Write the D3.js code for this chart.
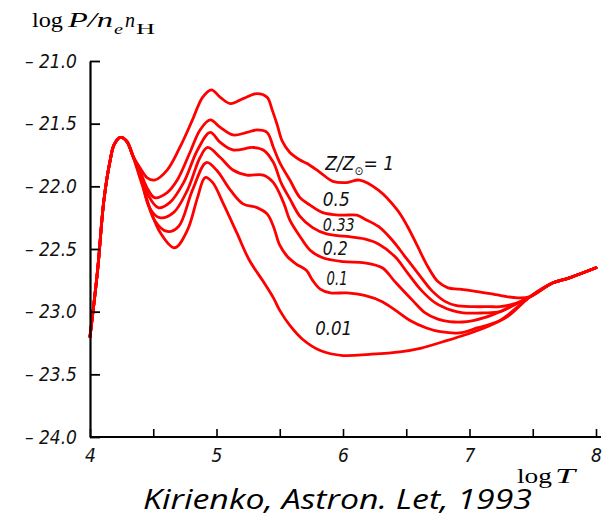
<!DOCTYPE html>
<html><head><meta charset="utf-8">
<script src="https://cdn.jsdelivr.net/npm/d3@7/dist/d3.min.js"></script>
<style>
html,body{margin:0;padding:0;background:#fff;}
svg{display:block;}
</style></head>
<body>
<svg id="chart" width="610" height="522"></svg>
<script>
// ---- data (log T, log P/(ne nH)) ----
const sharedRise = [[4.00,-23.20],[4.06,-22.67],[4.11,-22.11],[4.16,-21.79],[4.19,-21.67],[4.24,-21.61],[4.29,-21.64],[4.34,-21.76]];
const sharedTail = [[7.48,-22.88],[7.66,-22.77],[7.79,-22.73],[8.00,-22.65]];

const zSolar = [[4.40,-21.86],[4.45,-21.93],[4.51,-21.95],[4.61,-21.87],[4.71,-21.69],[4.81,-21.47],[4.89,-21.29],[4.96,-21.23],[5.03,-21.29],[5.11,-21.34],[5.21,-21.30],[5.32,-21.26],[5.40,-21.29],[5.44,-21.39],[5.48,-21.51],[5.52,-21.64],[5.58,-21.73],[5.66,-21.79],[5.72,-21.82],[5.82,-21.89],[5.92,-21.96],[6.03,-21.97],[6.13,-21.95],[6.28,-22.03],[6.43,-22.19],[6.51,-22.32],[6.59,-22.48],[6.67,-22.64],[6.75,-22.76],[6.83,-22.81],[6.92,-22.82],[7.06,-22.84],[7.24,-22.87],[7.38,-22.89]];
const zHalf = [[4.40,-21.89],[4.45,-22.01],[4.51,-22.09],[4.61,-22.05],[4.69,-21.95],[4.79,-21.73],[4.87,-21.55],[4.95,-21.47],[5.03,-21.53],[5.13,-21.59],[5.24,-21.57],[5.32,-21.55],[5.40,-21.57],[5.45,-21.69],[5.50,-21.81],[5.58,-21.95],[5.66,-22.09],[5.74,-22.15],[5.84,-22.21],[5.98,-22.23],[6.11,-22.23],[6.17,-22.26],[6.28,-22.32],[6.39,-22.43],[6.49,-22.56],[6.59,-22.69],[6.70,-22.83],[6.81,-22.92],[6.89,-22.95],[7.03,-22.96],[7.16,-22.96],[7.24,-22.96],[7.38,-22.93]];
const zThird = [[4.40,-21.90],[4.46,-22.07],[4.54,-22.17],[4.63,-22.13],[4.74,-21.97],[4.85,-21.71],[4.95,-21.57],[5.03,-21.65],[5.13,-21.71],[5.29,-21.69],[5.37,-21.71],[5.45,-21.81],[5.51,-21.97],[5.58,-22.10],[5.66,-22.24],[5.76,-22.33],[5.87,-22.38],[6.03,-22.40],[6.17,-22.42],[6.28,-22.46],[6.41,-22.56],[6.51,-22.69],[6.62,-22.83],[6.73,-22.93],[6.86,-22.99],[6.95,-23.01],[7.11,-23.01],[7.24,-23.00],[7.38,-22.93]];
const zFifth = [[4.40,-21.92],[4.47,-22.17],[4.55,-22.25],[4.66,-22.21],[4.77,-22.03],[4.87,-21.77],[4.93,-21.69],[5.03,-21.77],[5.13,-21.87],[5.24,-21.91],[5.37,-21.91],[5.45,-21.97],[5.53,-22.13],[5.58,-22.27],[5.66,-22.40],[5.74,-22.51],[5.84,-22.57],[6.00,-22.60],[6.17,-22.61],[6.31,-22.65],[6.41,-22.76],[6.55,-22.91],[6.65,-23.01],[6.75,-23.06],[6.84,-23.08],[6.98,-23.08],[7.11,-23.05],[7.24,-23.00]];
const zTenth = [[4.40,-21.93],[4.51,-22.27],[4.61,-22.36],[4.70,-22.32],[4.81,-22.03],[4.92,-21.81],[5.00,-21.87],[5.11,-22.03],[5.21,-22.14],[5.32,-22.17],[5.40,-22.22],[5.45,-22.32],[5.50,-22.47],[5.56,-22.56],[5.63,-22.62],[5.71,-22.67],[5.76,-22.75],[5.82,-22.82],[5.90,-22.85],[6.03,-22.85],[6.17,-22.87],[6.31,-22.92],[6.43,-23.00],[6.53,-23.07],[6.66,-23.13],[6.77,-23.16],[6.92,-23.17],[7.06,-23.13],[7.24,-23.07]];
const zHundredth = [[4.40,-21.95],[4.55,-22.36],[4.67,-22.49],[4.77,-22.35],[4.85,-22.09],[4.91,-21.93],[4.97,-21.97],[5.05,-22.13],[5.16,-22.37],[5.26,-22.59],[5.37,-22.76],[5.45,-22.89],[5.50,-22.99],[5.58,-23.11],[5.68,-23.22],[5.82,-23.31],[6.00,-23.35],[6.21,-23.34],[6.45,-23.32],[6.62,-23.29],[6.79,-23.24],[6.98,-23.18],[7.14,-23.12],[7.30,-23.04]];

const seriesLabels = ["1","0.5","0.33","0.2","0.1","0.01"];
const seriesMiddles = [zSolar, zHalf, zThird, zFifth, zTenth, zHundredth];
// label anchors in data units (log T, log P)
const labelT = [5.86, 5.84, 5.84, 5.84, 5.87, 5.78];
const labelP = [-21.87, -22.16, -22.36, -22.55, -22.79, -23.19];

const yTicks = [-21.0,-21.5,-22.0,-22.5,-23.0,-23.5,-24.0];
const xTicks = [4,4.5,5,5.5,6,6.5,7,7.5,8];
const xTickLabels = ["4","","5","","6","","7","","8"];

// ---- drawing ----
const svg = d3.select("#chart");
svg.append("rect").attr("width",610).attr("height",522).attr("fill","#fff");

const x = d3.scaleLinear().domain([4,8]).range([90,596]);
const y = d3.scaleLinear().domain([-24,-21]).range([437,61]);

const tickFont = "'DejaVu Sans Condensed','DejaVu Sans',sans-serif";

// curves
const line = d3.line().x(d=>x(d[0])).y(d=>y(d[1])).curve(d3.curveCatmullRom.alpha(0.5));
seriesMiddles.forEach((mid,i)=>{
  const pts = sharedRise.concat(mid, sharedTail);
  svg.append("path").datum(pts)
    .attr("d", line)
    .attr("fill","none")
    .attr("stroke","#ff0000")
    .attr("stroke-width",2.8)
    .attr("stroke-linejoin","round")
    .attr("stroke-linecap","round");
});

// y axis
const yAxis = d3.axisLeft(y).tickValues(yTicks).tickSize(-10).tickSizeOuter(0).tickPadding(13)
  .tickFormat(d => "\u2013 " + Math.abs(d).toFixed(1));
const gy = svg.append("g").attr("transform","translate(90,0)").call(yAxis);
gy.select(".domain").attr("stroke","#000").attr("stroke-width",2.2);
gy.selectAll(".tick line").attr("stroke","#000").attr("stroke-width",1.8);
gy.selectAll(".tick text").attr("fill","#111").style("font-family",tickFont)
  .style("font-style","italic").style("font-size","19px").style("font-stretch","condensed");

// x axis
const xAxis = d3.axisBottom(x).tickValues(xTicks).tickSize(-8).tickSizeOuter(0).tickPadding(12)
  .tickFormat((d,i)=>xTickLabels[i]);
const gx = svg.append("g").attr("transform","translate(0,437)").call(xAxis);
gx.select(".domain").remove();
gx.append("line").attr("x1",x(4)).attr("x2",x(8)+5).attr("y1",0).attr("y2",0)
  .attr("stroke","#000").attr("stroke-width",2.2);
gx.selectAll(".tick line").attr("stroke","#000").attr("stroke-width",1.6);
gx.selectAll(".tick text").attr("fill","#111").style("font-family",tickFont)
  .style("font-style","italic").style("font-size","19px").style("font-stretch","condensed");

// series labels
const lblFont = tickFont;
const lblWidths = [null, 27, 32, 25, 21, 37];
seriesLabels.forEach((lab,i)=>{
  const t = svg.append("text")
    .attr("x", x(labelT[i])).attr("y", y(labelP[i]))
    .attr("fill","#111")
    .style("font-family",lblFont).style("font-style","italic")
    .style("font-size", i===2 ? "17px" : "19px").style("font-stretch","condensed");
  if(i===0){
    t.append("tspan").text("Z/Z");
    t.append("tspan").attr("dy",5).style("font-size","12px").style("font-style","normal").text("\u2299");
    t.append("tspan").attr("dy",-5).text("= " + lab);
  } else {
    t.text(lab).attr("textLength", lblWidths[i]).attr("lengthAdjust","spacingAndGlyphs");
  }
});

// y-axis title: log P/n_e n_H
const serif = "'Liberation Serif','DejaVu Serif',serif";
function piece(txt, px, base, size, italic, width){
  svg.append("text").attr("x",px).attr("y",base).text(txt)
    .attr("fill","#000")
    .style("font-family",serif).style("font-size",size+"px")
    .style("font-style", italic ? "italic":"normal")
    .attr("textLength",width).attr("lengthAdjust","spacingAndGlyphs");
}
piece("log", 32, 27, 20, false, 31);
piece("P/n", 68, 27, 20, true, 45);
piece("e", 114, 34, 14, true, 9);
piece("n", 125, 27, 20, true, 10);
piece("H", 136, 34, 15, false, 19);

// caption
svg.append("text").attr("x",143).attr("y",509)
  .text("Kirienko, Astron. Let, 1993")
  .attr("fill","#000")
  .style("font-family","'Open Sans','Liberation Sans',sans-serif")
  .style("font-style","italic").style("font-size","27px")
  .attr("textLength",389).attr("lengthAdjust","spacingAndGlyphs");

// x-axis title: log T
piece("log", 517, 483, 21, false, 35);
piece("T", 555, 483, 21, true, 20);
</script>
</body></html>
